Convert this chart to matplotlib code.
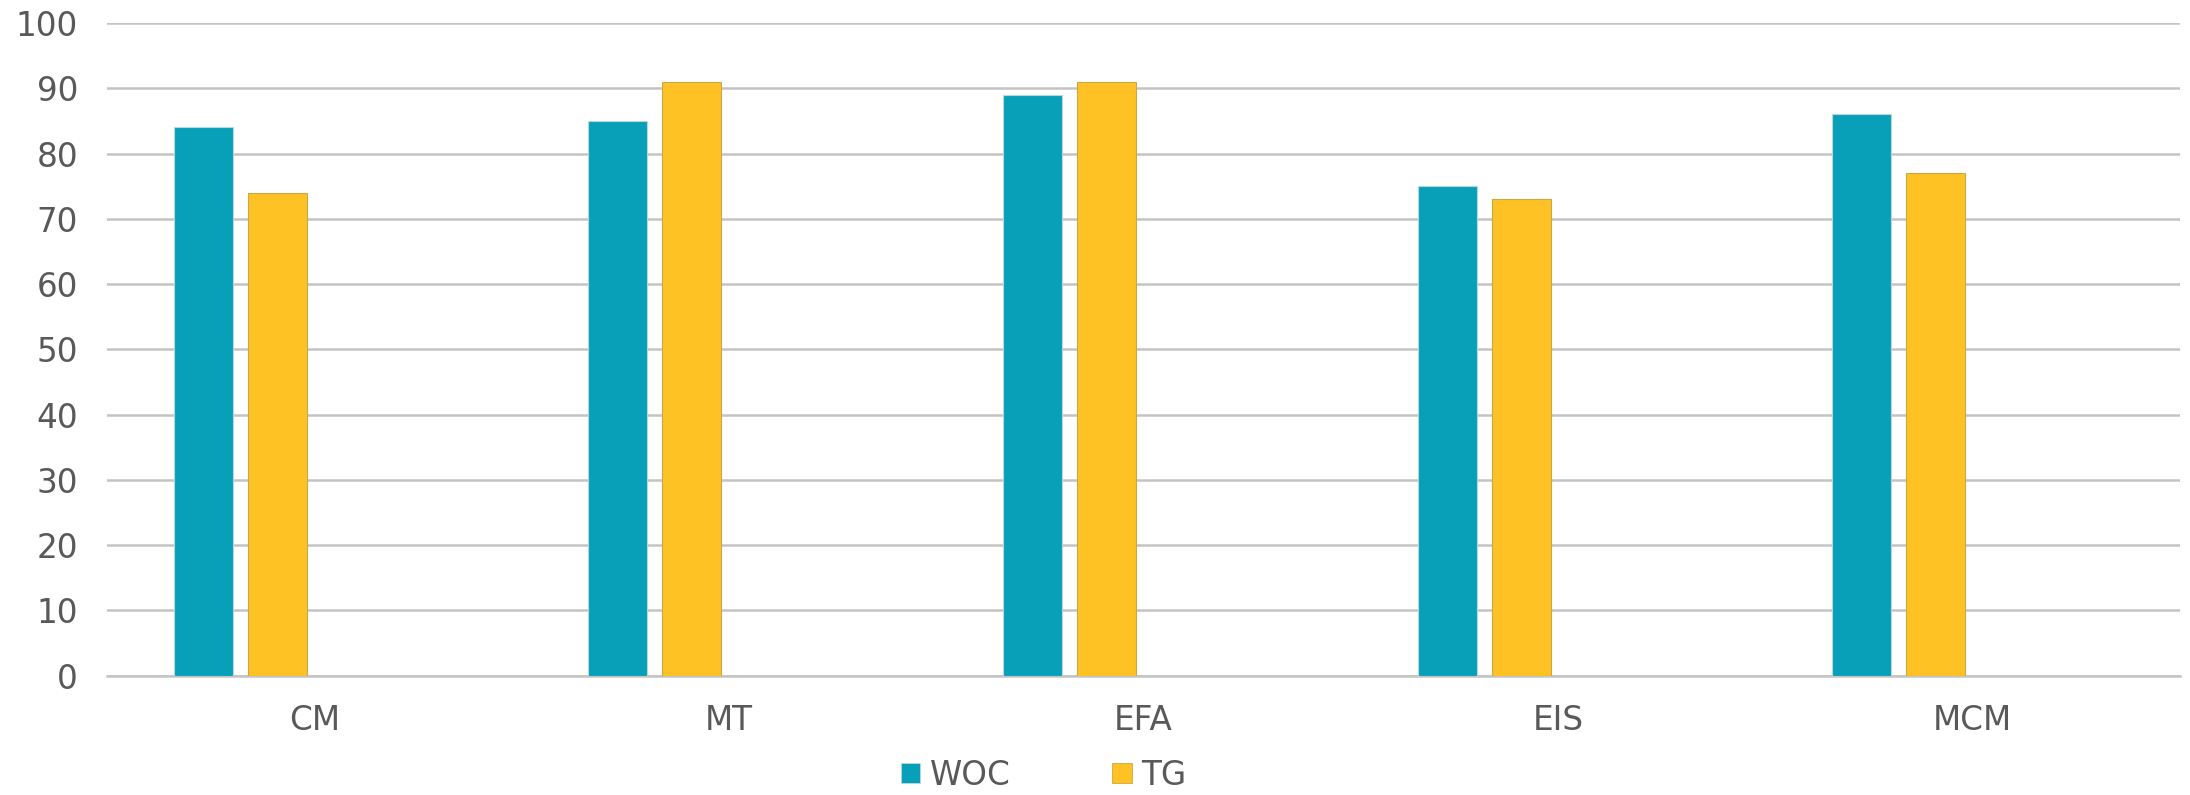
import matplotlib.pyplot as plt
from matplotlib.patches import Patch
import numpy as np

categories = ['CM', 'MT', 'EFA', 'EIS', 'MCM']
woc = [84, 85, 89, 75, 86]
tg = [74, 91, 91, 73, 77]
series_names = ['WOC', 'TG']
colors = ['#07A0B8', '#FFC224']
edges = ['#b8d8de', '#c8a848']

# excel-style cluster with 4 slots, last two series empty
n_slots = 4
pitch = 0.1785
width = 0.1423

text_color = '#595959'
fsize = 23.5
plt.rcParams['font.family'] = ['DejaVu Sans']

fig = plt.figure(figsize=(21.9, 7.95), dpi=100)
ax = fig.add_axes([0.0489, 0.150, 0.9465, 0.821])

x = np.arange(len(categories))
for i, vals in enumerate([woc, tg]):
    offset = (i - (n_slots - 1) / 2) * pitch
    ax.bar(x + offset, vals, width=width, color=colors[i],
           edgecolor=edges[i], linewidth=0.8, zorder=3)

ax.set_ylim(0, 100)
ax.set_xlim(-0.5, len(categories) - 0.5)
ax.set_yticks(np.arange(0, 101, 10))
ax.set_xticks(x)
ax.set_xticklabels(categories)

ax.yaxis.grid(True, color='#c4c4c4', linewidth=1.8, zorder=0)
ax.set_axisbelow(True)
for s in ['top', 'right', 'left']:
    ax.spines[s].set_visible(False)
ax.spines['bottom'].set_color('#c4c4c4')
ax.spines['bottom'].set_linewidth(1.8)

ax.tick_params(axis='y', length=0, pad=21, labelsize=fsize, labelcolor=text_color)
ax.tick_params(axis='x', length=0, pad=20, labelsize=fsize, labelcolor=text_color)

handles = [Patch(facecolor=colors[i], edgecolor=edges[i], linewidth=0.6)
           for i in range(2)]
leg = fig.legend(handles, series_names, loc='center', bbox_to_anchor=(0.4765, 0.025),
                 ncol=2, frameon=False, fontsize=fsize, handlelength=0.6,
                 handleheight=0.6, handletextpad=0.3, columnspacing=3.1)
for t in leg.get_texts():
    t.set_color(text_color)

fig.savefig('out.png', dpi=100)
